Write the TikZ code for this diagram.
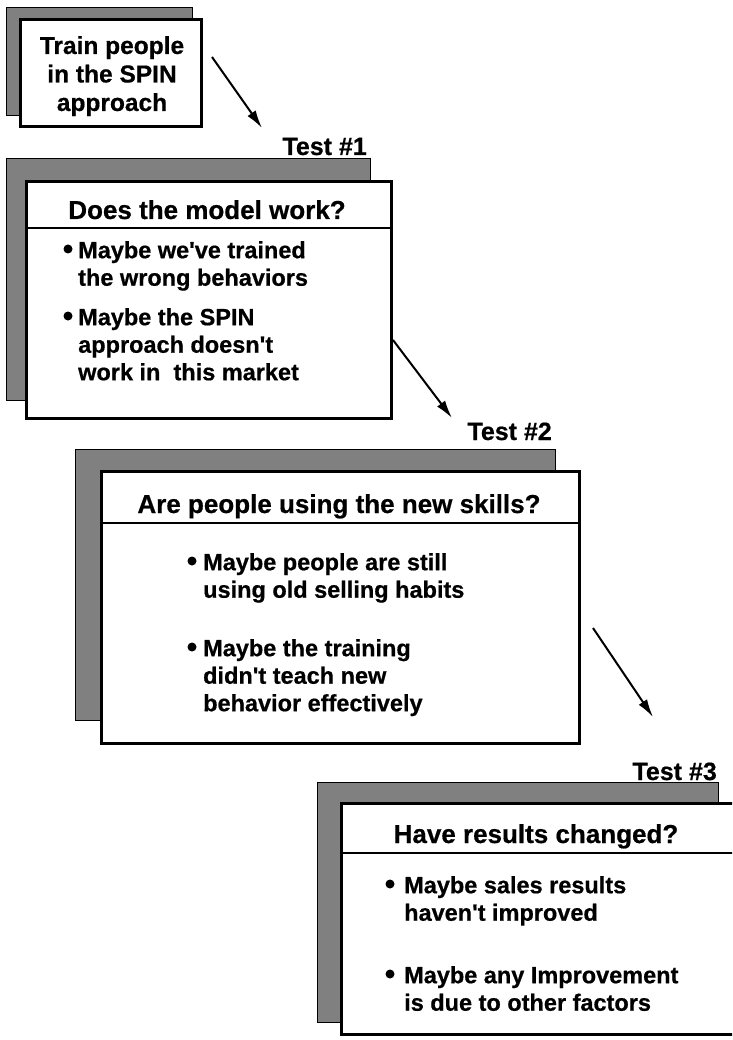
\documentclass[tikz,border=0pt]{standalone}
\usepackage{fontspec}
\setmainfont{Liberation Sans}[BoldFeatures={FakeBold=0.6}]
\usetikzlibrary{arrows.meta}
\newcommand{\apo}{\textquotesingle}
\begin{document}
\begin{tikzpicture}[x=1pt,y=-1pt,
  shadowbox/.style={draw=black, line width=1.3pt, fill=black!50, inner sep=0pt, anchor=north west},
  frontbox/.style={draw=black, line width=2.6pt, fill=white, inner sep=0pt, anchor=north west},
  sepline/.style={draw=black, line width=2.6pt},
  headtext/.style={font=\bfseries\fontsize{26}{30}\selectfont, inner sep=0pt, anchor=base},
  testlabel/.style={font=\bfseries\fontsize{25}{30}\selectfont, inner sep=0pt, anchor=base east},
  itemtext/.style={font=\bfseries\fontsize{23.5}{27.5}\selectfont, inner sep=0pt, anchor=north west, align=left},
  dot/.style={circle, fill=black, inner sep=0pt, minimum size=9pt},
  flowarrow/.style={draw=black, line width=2pt, -{Latex[length=18pt,width=10pt]}}
]
\clip (0,0) rectangle (732,1040);
\fill[white] (0,0) rectangle (732,1040);

% ---- Box 0 ----
\node[shadowbox, minimum width=186pt, minimum height=108pt] (s0) at (6,7) {};
\node[frontbox, minimum width=181pt, minimum height=107pt] (b0) at (19,18) {};
\node[font=\bfseries\fontsize{24.5}{28.5}\selectfont, inner sep=0pt, anchor=north, align=center] (t0) at (112,36)
  {Train people\\in the SPIN\\approach};

% ---- Box 1 ----
\node[testlabel] (l1) at (367,155) {Test \#1};
\node[shadowbox, minimum width=364pt, minimum height=242pt] (s1) at (6,158) {};
\node[frontbox, minimum width=365pt, minimum height=237pt] (b1) at (25,180) {};
\draw[sepline] (b1.west |- 0,228) -- (b1.east |- 0,228);
\node[headtext] (h1) at (207,219) {Does the model work?};
\node[dot] (d11) at (68,249) {};
\node[itemtext] (i11) at (78,241) {Maybe we\apo ve trained\\the wrong behaviors};
\node[dot] (d12) at (68,316) {};
\node[itemtext] (i12) at (78,308) {Maybe the SPIN\\approach doesn\apo t\\work in\ \ this market};

% ---- Box 2 ----
\node[testlabel] (l2) at (552,440) {Test \#2};
\node[shadowbox, minimum width=480pt, minimum height=271pt] (s2) at (75,449) {};
\node[frontbox, minimum width=478pt, minimum height=272pt] (b2) at (100,470) {};
\draw[sepline] (b2.west |- 0,523) -- (b2.east |- 0,523);
\node[headtext] (h2) at (339,513) {Are people using the new skills?};
\node[dot] (d21) at (192,561) {};
\node[itemtext] (i21) at (203,553) {Maybe people are still\\using old selling habits};
\node[dot] (d22) at (192,647) {};
\node[itemtext] (i22) at (203,639) {Maybe the training\\didn\apo t teach new\\behavior effectively};

% ---- Box 3 ----
\node[testlabel] (l3) at (717,780) {Test \#3};
\node[shadowbox, minimum width=401pt, minimum height=240pt] (s3) at (317,782) {};
\node[frontbox, minimum width=405pt, minimum height=231pt] (b3) at (340,802) {};
\draw[sepline] (b3.west |- 0,853) -- (b3.east |- 0,853);
\node[headtext] (h3) at (536,843) {Have results changed?};
\node[dot] (d31) at (390,884) {};
\node[itemtext] (i31) at (404,876) {Maybe sales results\\haven\apo t improved};
\node[dot] (d32) at (390,974) {};
\node[itemtext] (i32) at (404,966) {Maybe any Improvement\\is due to other factors};

% ---- Arrows ----
\coordinate (a1s) at (212,57);
\coordinate (a1e) at (262,128);
\coordinate (a2s) at (393,340);
\coordinate (a2e) at (452,418);
\coordinate (a3s) at (593,628);
\coordinate (a3e) at (653,717);
\draw[flowarrow] (a1s) -- (a1e);
\draw[flowarrow] (a2s) -- (a2e);
\draw[flowarrow] (a3s) -- (a3e);
\end{tikzpicture}
\end{document}
